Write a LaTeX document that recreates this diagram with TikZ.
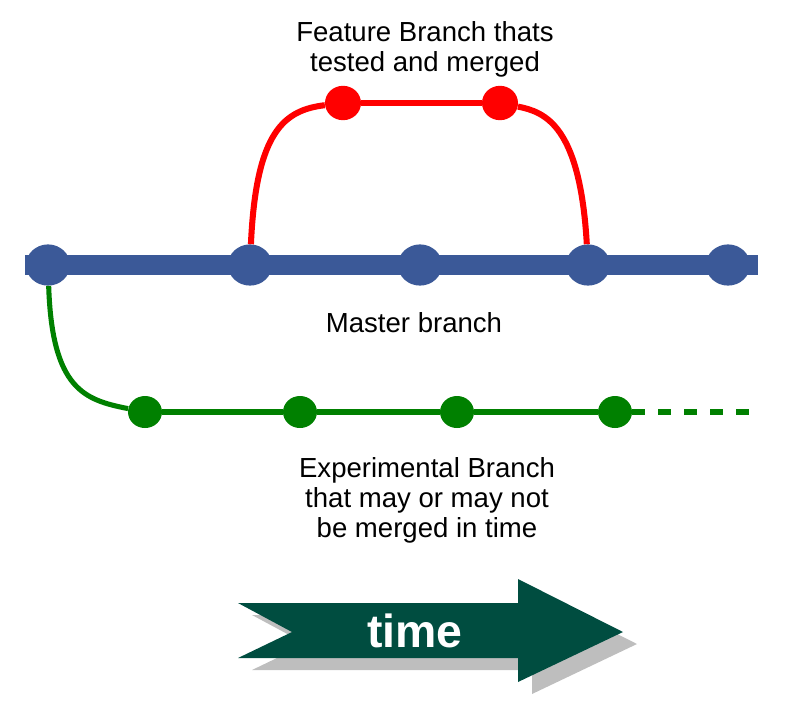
\documentclass[tikz,border=0pt]{standalone}
\usepackage{fontspec}
\setmainfont{Liberation Sans}
\usepackage{tikz}
\usetikzlibrary{shapes.geometric,backgrounds}

\definecolor{masterblue}{RGB}{59,89,152}
\definecolor{featred}{RGB}{255,0,0}
\definecolor{expgreen}{RGB}{0,128,0}
\definecolor{timegreen}{RGB}{0,77,64}
\definecolor{shadowgray}{RGB}{190,190,190}

\tikzset{
  mnode/.style={ellipse, fill=masterblue, inner sep=0pt, minimum width=1.1cm, minimum height=1.03cm},
  fnode/.style={ellipse, fill=featred, inner sep=0pt, minimum width=0.9cm, minimum height=0.86cm},
  gnode/.style={ellipse, fill=expgreen, inner sep=0pt, minimum width=0.85cm, minimum height=0.8cm},
  masterline/.style={masterblue, line width=14pt},
  featline/.style={featred, line width=4.3pt},
  expline/.style={expgreen, line width=3.6pt},
  label/.style={align=center, font=\fontsize{19.6}{21.3}\selectfont}
}

\begin{document}
\begin{tikzpicture}[x=0.025cm, y=-0.025cm]
\useasboundingbox (0,0) rectangle (800,712);

% Master branch
\coordinate (mstart) at (25,265);
\coordinate (mend) at (758,265);
\node[mnode] (m1) at (48,265) {};
\node[mnode] (m2) at (250,265) {};
\node[mnode] (m3) at (420,265) {};
\node[mnode] (m4) at (588,265) {};
\node[mnode] (m5) at (728,265) {};
\begin{scope}[on background layer]
  \draw[masterline] (mstart) -- (mend);
\end{scope}
\node[label] (masterlabel) at (414,323) {Master branch};

% Feature branch
\node[fnode] (f1) at (343,103) {};
\node[fnode] (f2) at (500,103) {};
\draw[featline] (m2) .. controls (256,130) and (285,110) .. (f1);
\draw[featline] (f1) -- (f2);
\draw[featline] (f2) .. controls (545,112) and (580,125) .. (m4);
\node[label] (featlabel) at (425,49) {Feature Branch thats\\tested and merged};

% Experimental branch
\node[gnode] (g1) at (145,412) {};
\node[gnode] (g2) at (300,412) {};
\node[gnode] (g3) at (457,412) {};
\node[gnode] (g4) at (615,412) {};
\coordinate (gend) at (750,412);
\draw[expline] (m1) .. controls (52,390) and (85,400) .. (g1);
\draw[expline] (g1) -- (g2);
\draw[expline] (g2) -- (g3);
\draw[expline] (g3) -- (g4);
\draw[expline, dash pattern=on 9pt off 9.5pt] (g4) -- (gend);
\node[label] (explabel) at (427,500) {Experimental Branch\\that may or may not\\be merged in time};

% Time arrow
\fill[shadowgray, shift={(14,12)}] (238,603) -- (518,603) -- (518,579) -- (623,632)
  -- (518,682) -- (518,658) -- (238,658) -- (292,632) -- cycle;
\fill[timegreen] (238,603) -- (518,603) -- (518,579) -- (623,632)
  -- (518,682) -- (518,658) -- (238,658) -- (292,632) -- cycle;
\node[text=white, font=\fontsize{33}{36}\selectfont\bfseries] (timelabel) at (415,631) {time};
\end{tikzpicture}
\end{document}
